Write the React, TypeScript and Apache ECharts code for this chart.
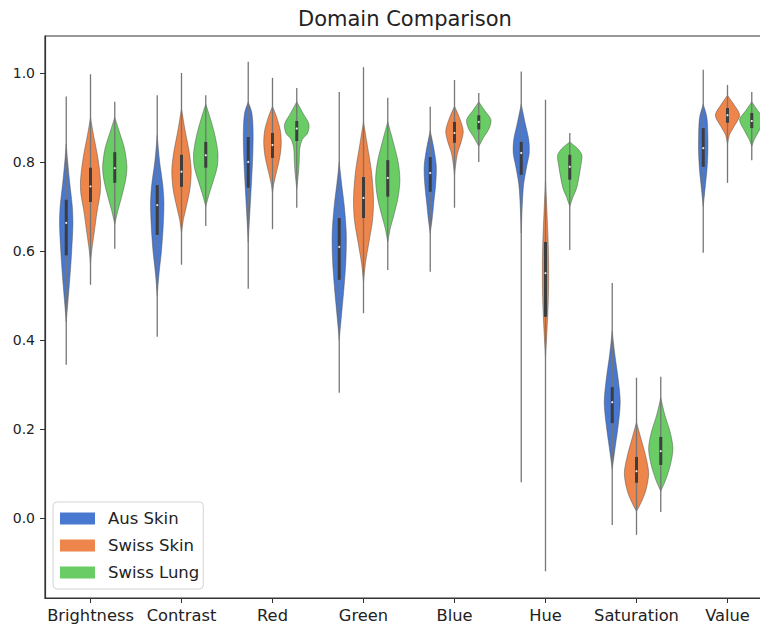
import React, { useEffect, useRef } from "react";
import * as echarts from "echarts";

const categories = ["Brightness", "Contrast", "Red", "Green", "Blue", "Hue", "Saturation", "Value"];
const groupNames = ["Aus Skin", "Swiss Skin", "Swiss Lung"];
const groupColors = ["#4878d0", "#ee854a", "#6acc64"];
const yTicks = [0, 0.2, 0.4, 0.6, 0.8, 1.0];

// Aus Skin
const ausTailLow = [0.344, 0.407, 0.515, 0.281, 0.553, 0.08, -0.016, 0.596];
const ausTailHigh = [0.947, 0.95, 1.025, 0.957, 0.924, 1.003, 0.528, 1.007];
const ausQ1 = [0.59, 0.636, 0.742, 0.535, 0.733, 0.771, 0.213, 0.789];
const ausMedian = [0.663, 0.703, 0.8, 0.609, 0.775, 0.82, 0.26, 0.831];
const ausQ3 = [0.715, 0.748, 0.856, 0.674, 0.811, 0.845, 0.294, 0.876];
// density profiles: [value, relative half-width]
const ausDensity = [
  [[0.84, 0], [0.8, 0.12], [0.75, 0.3], [0.7, 0.5], [0.66, 0.55], [0.6, 0.45], [0.54, 0.3], [0.48, 0.12], [0.44, 0]],
  [[0.86, 0], [0.8, 0.2], [0.75, 0.45], [0.71, 0.55], [0.66, 0.5], [0.6, 0.35], [0.55, 0.15], [0.5, 0]],
  [[0.935, 0], [0.91, 0.3], [0.87, 0.4], [0.82, 0.38], [0.77, 0.3], [0.72, 0.2], [0.67, 0.1], [0.62, 0]],
  [[0.8, 0], [0.75, 0.2], [0.7, 0.42], [0.64, 0.58], [0.58, 0.55], [0.52, 0.4], [0.46, 0.2], [0.4, 0]],
  [[0.87, 0], [0.83, 0.3], [0.79, 0.5], [0.75, 0.45], [0.71, 0.3], [0.67, 0.15], [0.64, 0]],
  [[0.93, 0], [0.89, 0.3], [0.85, 0.62], [0.82, 0.66], [0.79, 0.45], [0.75, 0.2], [0.7, 0.08], [0.64, 0]],
  [[0.42, 0], [0.37, 0.2], [0.31, 0.5], [0.26, 0.66], [0.21, 0.5], [0.16, 0.25], [0.11, 0]],
  [[0.93, 0], [0.9, 0.3], [0.86, 0.38], [0.82, 0.38], [0.78, 0.3], [0.74, 0.15], [0.7, 0]],
];

// Swiss Skin
const skinTailLow = [0.524, 0.569, 0.649, 0.46, 0.697, -0.12, -0.038, 0.753];
const skinTailHigh = [0.997, 1.0, 0.989, 1.013, 0.984, 0.94, 0.315, 0.973];
const skinQ1 = [0.71, 0.744, 0.809, 0.674, 0.843, 0.452, 0.079, 0.888];
const skinMedian = [0.745, 0.778, 0.838, 0.719, 0.865, 0.55, 0.105, 0.905];
const skinQ3 = [0.787, 0.816, 0.865, 0.766, 0.89, 0.62, 0.137, 0.921];
const skinDensity = [
  [[0.9, 0], [0.86, 0.25], [0.81, 0.6], [0.76, 0.82], [0.73, 0.8], [0.69, 0.55], [0.64, 0.3], [0.6, 0.1], [0.57, 0]],
  [[0.92, 0], [0.87, 0.3], [0.82, 0.65], [0.78, 0.8], [0.74, 0.7], [0.7, 0.4], [0.67, 0.15], [0.64, 0]],
  [[0.925, 0], [0.9, 0.35], [0.87, 0.65], [0.84, 0.72], [0.81, 0.6], [0.78, 0.35], [0.75, 0.1], [0.73, 0]],
  [[0.89, 0], [0.84, 0.3], [0.78, 0.65], [0.72, 0.82], [0.67, 0.75], [0.62, 0.45], [0.57, 0.15], [0.53, 0]],
  [[0.925, 0], [0.9, 0.4], [0.87, 0.72], [0.845, 0.55], [0.82, 0.25], [0.79, 0.08], [0.77, 0]],
  [[0.76, 0], [0.7, 0.1], [0.62, 0.22], [0.55, 0.26], [0.48, 0.22], [0.42, 0.12], [0.36, 0]],
  [[0.215, 0], [0.18, 0.35], [0.14, 0.75], [0.1, 1.0], [0.06, 0.75], [0.03, 0.3], [0.015, 0]],
  [[0.95, 0], [0.93, 0.5], [0.905, 1.0], [0.88, 0.55], [0.86, 0.15], [0.84, 0]],
];

// Swiss Lung
const lungTailLow = [0.605, 0.656, 0.697, 0.557, 0.8, 0.602, 0.013, 0.804];
const lungTailHigh = [0.935, 0.95, 0.966, 0.944, 0.955, 0.865, 0.317, 0.957];
const lungQ1 = [0.753, 0.787, 0.847, 0.722, 0.873, 0.76, 0.119, 0.876];
const lungMedian = [0.786, 0.815, 0.875, 0.764, 0.89, 0.789, 0.15, 0.892];
const lungQ3 = [0.822, 0.845, 0.892, 0.804, 0.905, 0.816, 0.182, 0.91];
const lungDensity = [
  [[0.9, 0], [0.87, 0.35], [0.83, 0.8], [0.79, 1.0], [0.76, 0.9], [0.72, 0.55], [0.69, 0.25], [0.66, 0]],
  [[0.93, 0], [0.9, 0.35], [0.86, 0.75], [0.82, 1.0], [0.79, 0.95], [0.76, 0.65], [0.73, 0.3], [0.7, 0]],
  [[0.935, 0], [0.91, 0.5], [0.885, 1.0], [0.865, 0.9], [0.85, 0.45], [0.83, 0.25], [0.8, 0.2], [0.77, 0.12], [0.74, 0]],
  [[0.89, 0], [0.85, 0.4], [0.8, 0.85], [0.76, 1.0], [0.72, 0.85], [0.68, 0.5], [0.65, 0.2], [0.62, 0]],
  [[0.935, 0], [0.915, 0.5], [0.895, 1.0], [0.875, 0.85], [0.855, 0.4], [0.835, 0]],
  [[0.845, 0], [0.83, 0.65], [0.815, 1.0], [0.79, 0.9], [0.765, 0.75], [0.74, 0.55], [0.72, 0.25], [0.7, 0]],
  [[0.27, 0], [0.23, 0.35], [0.19, 0.8], [0.155, 1.0], [0.12, 0.8], [0.085, 0.4], [0.06, 0]],
  [[0.935, 0], [0.915, 0.5], [0.895, 1.0], [0.87, 0.6], [0.85, 0.2], [0.835, 0]],
];

const groups = [
  { lo: ausTailLow, hi: ausTailHigh, q1: ausQ1, med: ausMedian, q3: ausQ3, dens: ausDensity },
  { lo: skinTailLow, hi: skinTailHigh, q1: skinQ1, med: skinMedian, q3: skinQ3, dens: skinDensity },
  { lo: lungTailLow, hi: lungTailHigh, q1: lungQ1, med: lungMedian, q3: lungQ3, dens: lungDensity },
];

const FONT = "DejaVu Sans";

function buildSeries(gi: number) {
  const g = groups[gi];
  const data = categories.map((_, i) => [i, g.lo[i], g.hi[i], g.q1[i], g.med[i], g.q3[i]]);
  return {
    type: "custom",
    name: groupNames[gi],
    itemStyle: { color: groupColors[gi] },
    encode: { x: 0, y: [1, 2] },
    data,
    renderItem: (params: any, api: any) => {
      const ci = api.value(0);
      const band = api.size([1, 0])[0];
      const vw = (band * 0.8) / 3;
      const cx = api.coord([ci, 0])[0] + (gi - 1) * vw;
      const half = vw / 2;
      const prof = g.dens[params.dataIndex];
      const right = prof.map(([v, w]: number[]) => [cx + w * half, api.coord([ci, v])[1]]);
      const left = prof
        .slice()
        .reverse()
        .map(([v, w]: number[]) => [cx - w * half, api.coord([ci, v])[1]]);
      const yLo = api.coord([ci, api.value(1)])[1];
      const yHi = api.coord([ci, api.value(2)])[1];
      const yQ1 = api.coord([ci, api.value(3)])[1];
      const yMed = api.coord([ci, api.value(4)])[1];
      const yQ3 = api.coord([ci, api.value(5)])[1];
      return {
        type: "group",
        children: [
          {
            type: "polygon",
            shape: { points: right.concat(left), smooth: 0.3 },
            style: { fill: groupColors[gi], stroke: "rgba(70,70,70,0.5)", lineWidth: 0.9 },
          },
          {
            type: "line",
            shape: { x1: cx, y1: yHi, x2: cx, y2: yLo },
            style: { stroke: "#767676", lineWidth: 1.3 },
          },
          {
            type: "rect",
            shape: { x: cx - 1.5, y: yQ3, width: 3, height: yQ1 - yQ3 },
            style: { fill: "#3d3d3d" },
          },
          {
            type: "circle",
            shape: { cx, cy: yMed, r: 1.1 },
            style: { fill: "#e8e8e8" },
          },
        ],
      };
    },
  };
}

export default function App() {
  const ref = useRef<HTMLDivElement>(null);
  useEffect(() => {
    if (!ref.current) return;
    const chart = echarts.init(ref.current, null, { renderer: "svg" });
    chart.setOption({
      animation: false,
      backgroundColor: "#ffffff",
      title: {
        text: "Domain Comparison",
        left: 298,
        top: 8,
        padding: 0,
        textStyle: { fontFamily: FONT, fontSize: 21, fontWeight: "normal", color: "#222" },
      },
      legend: {
        orient: "vertical",
        left: 53,
        top: 502,
        padding: [8, 4, 8, 7],
        itemGap: 10,
        itemWidth: 35,
        itemHeight: 12,
        icon: "rect",
        backgroundColor: "rgba(255,255,255,0.85)",
        borderColor: "#d4d4d4",
        borderWidth: 1,
        borderRadius: 4,
        textStyle: { fontFamily: FONT, fontSize: 16.5, color: "#222", padding: [0, 0, 0, 8] },
        data: groupNames,
      },
      grid: {
        left: 45,
        right: 7,
        top: 36,
        bottom: 28,
        show: true,
        borderColor: "#333",
        borderWidth: 1.2,
        containLabel: false,
      },
      xAxis: {
        type: "category",
        data: categories,
        boundaryGap: true,
        axisLine: { show: true, onZero: false, lineStyle: { color: "#333", width: 1.2 } },
        axisTick: { show: true, alignWithLabel: true, length: 5, lineStyle: { color: "#333" } },
        axisLabel: { fontFamily: FONT, fontSize: 16.3, color: "#222", margin: 9, interval: 0 },
        splitLine: { show: false },
      },
      yAxis: {
        type: "value",
        min: -0.18,
        max: 1.083,
        axisLine: { show: true, lineStyle: { color: "#333", width: 1.2 } },
        axisTick: { show: true, length: 5, customValues: yTicks, lineStyle: { color: "#333" } },
        axisLabel: {
          fontFamily: FONT,
          fontSize: 14,
          color: "#222",
          margin: 10,
          customValues: yTicks,
          formatter: (v: number) => v.toFixed(1),
        },
        splitLine: { show: false },
      },
      series: [0, 1, 2].map(buildSeries),
    });
    return () => chart.dispose();
  }, []);
  return (
    <div style={{ position: "absolute", left: 0, top: 0, width: 760, height: 626, overflow: "hidden" }}>
      <div ref={ref} style={{ width: 780, height: 626 }} />
    </div>
  );
}
